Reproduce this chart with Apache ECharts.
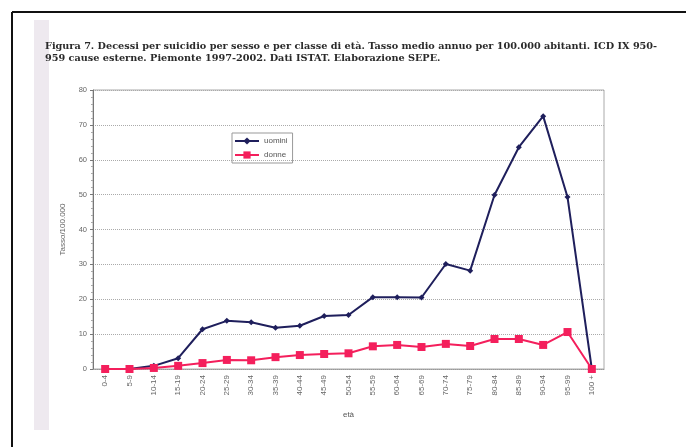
<!DOCTYPE html>
<html>
<head>
<meta charset="utf-8">
<script src="https://cdn.jsdelivr.net/npm/echarts@6/dist/echarts.min.js"></script>
<style>
html, body { margin: 0; padding: 0; background: #fff; }
#chart { width: 686px; height: 447px; }
</style>
</head>
<body>
<div id="chart"></div>
<script>
// classi di età
var categories = ['0-4', '5-9', '10-14', '15-19', '20-24', '25-29', '30-34', '35-39', '40-44', '45-49',
    '50-54', '55-59', '60-64', '65-69', '70-74', '75-79', '80-84', '85-89', '90-94', '95-99', '100 +'];
var uomini = [0, 0, 0.9, 3.1, 11.4, 13.8, 13.4, 11.8, 12.4, 15.2, 15.5, 20.6, 20.6, 20.5, 30.1, 28.2, 49.9, 63.6, 72.5, 49.3, 0];
var donne = [0, 0, 0.3, 0.9, 1.7, 2.6, 2.5, 3.4, 4.0, 4.3, 4.5, 6.5, 6.9, 6.3, 7.2, 6.6, 8.6, 8.6, 6.9, 10.6, 0];
var titolo = 'Figura 7. Decessi per suicidio per sesso e per classe di età. Tasso medio annuo per 100.000 abitanti. ICD IX 950-\n959 cause esterne. Piemonte 1997-2002. Dati ISTAT. Elaborazione SEPE.';

var chart = echarts.init(document.getElementById('chart'));

var option = {
    backgroundColor: '#fff',
    animation: false,
    title: {
        text: titolo,
        left: 40,
        top: 35,
        textStyle: {
            fontFamily: 'DejaVu Serif',
            fontWeight: 'bold',
            fontSize: 9.7,
            lineHeight: 12.5,
            color: '#2a2a2a'
        }
    },
    graphic: [
        // cornice nera della pagina
        { type: 'line', shape: { x1: 12, y1: 12, x2: 686, y2: 12 }, style: { stroke: '#111', lineWidth: 2 } },
        { type: 'line', shape: { x1: 12, y1: 12, x2: 12, y2: 447 }, style: { stroke: '#111', lineWidth: 2 } },
        // striscia grigia della scansione
        { type: 'rect', shape: { x: 34, y: 20, width: 15, height: 410 }, style: { fill: '#eee9ef' }, z: -1 }
    ],
    legend: {
        orient: 'vertical',
        left: 232,
        top: 133,
        data: ['uomini', 'donne'],
        itemWidth: 24,
        itemHeight: 9,
        itemGap: 6,
        padding: [4, 5, 4, 2],
        borderColor: '#999',
        borderWidth: 1,
        textStyle: { fontSize: 8, color: '#555', fontFamily: 'Liberation Sans' }
    },
    grid: {
        left: 93,
        top: 90,
        width: 511,
        height: 279,
        show: true,
        borderColor: '#aaa',
        borderWidth: 1
    },
    xAxis: {
        type: 'category',
        data: categories,
        boundaryGap: true,
        name: 'età',
        nameLocation: 'middle',
        nameGap: 42,
        nameTextStyle: { fontSize: 8, color: '#555' },
        axisLine: { lineStyle: { color: '#999', type: 'dotted' } },
        axisTick: { show: false },
        axisLabel: { rotate: 90, fontSize: 8, color: '#666', margin: 6 }
    },
    yAxis: {
        type: 'value',
        min: 0,
        max: 80,
        interval: 10,
        name: 'Tasso/100.000',
        nameLocation: 'middle',
        nameGap: 26,
        nameTextStyle: { fontSize: 8, color: '#666' },
        axisLine: { show: true, lineStyle: { color: '#777' } },
        axisTick: { show: true, length: 3, lineStyle: { color: '#777' } },
        minorTick: { show: true, splitNumber: 5, length: 2, lineStyle: { color: '#aaa' } },
        axisLabel: { fontSize: 7.5, color: '#666', margin: 6 },
        splitLine: { lineStyle: { color: '#aaa', type: 'dotted' } }
    },
    series: [
        {
            name: 'uomini',
            type: 'line',
            data: uomini,
            symbol: 'diamond',
            symbolSize: 6,
            color: '#1f1f5c',
            lineStyle: { width: 2, color: '#1f1f5c' },
            itemStyle: { color: '#1f1f5c' },
            z: 3
        },
        {
            name: 'donne',
            type: 'line',
            data: donne,
            symbol: 'rect',
            symbolSize: 8,
            color: '#f41f5c',
            lineStyle: { width: 2, color: '#f41f5c' },
            itemStyle: { color: '#f41f5c' },
            z: 4
        }
    ]
};

chart.setOption(option);
</script>
</body>
</html>
